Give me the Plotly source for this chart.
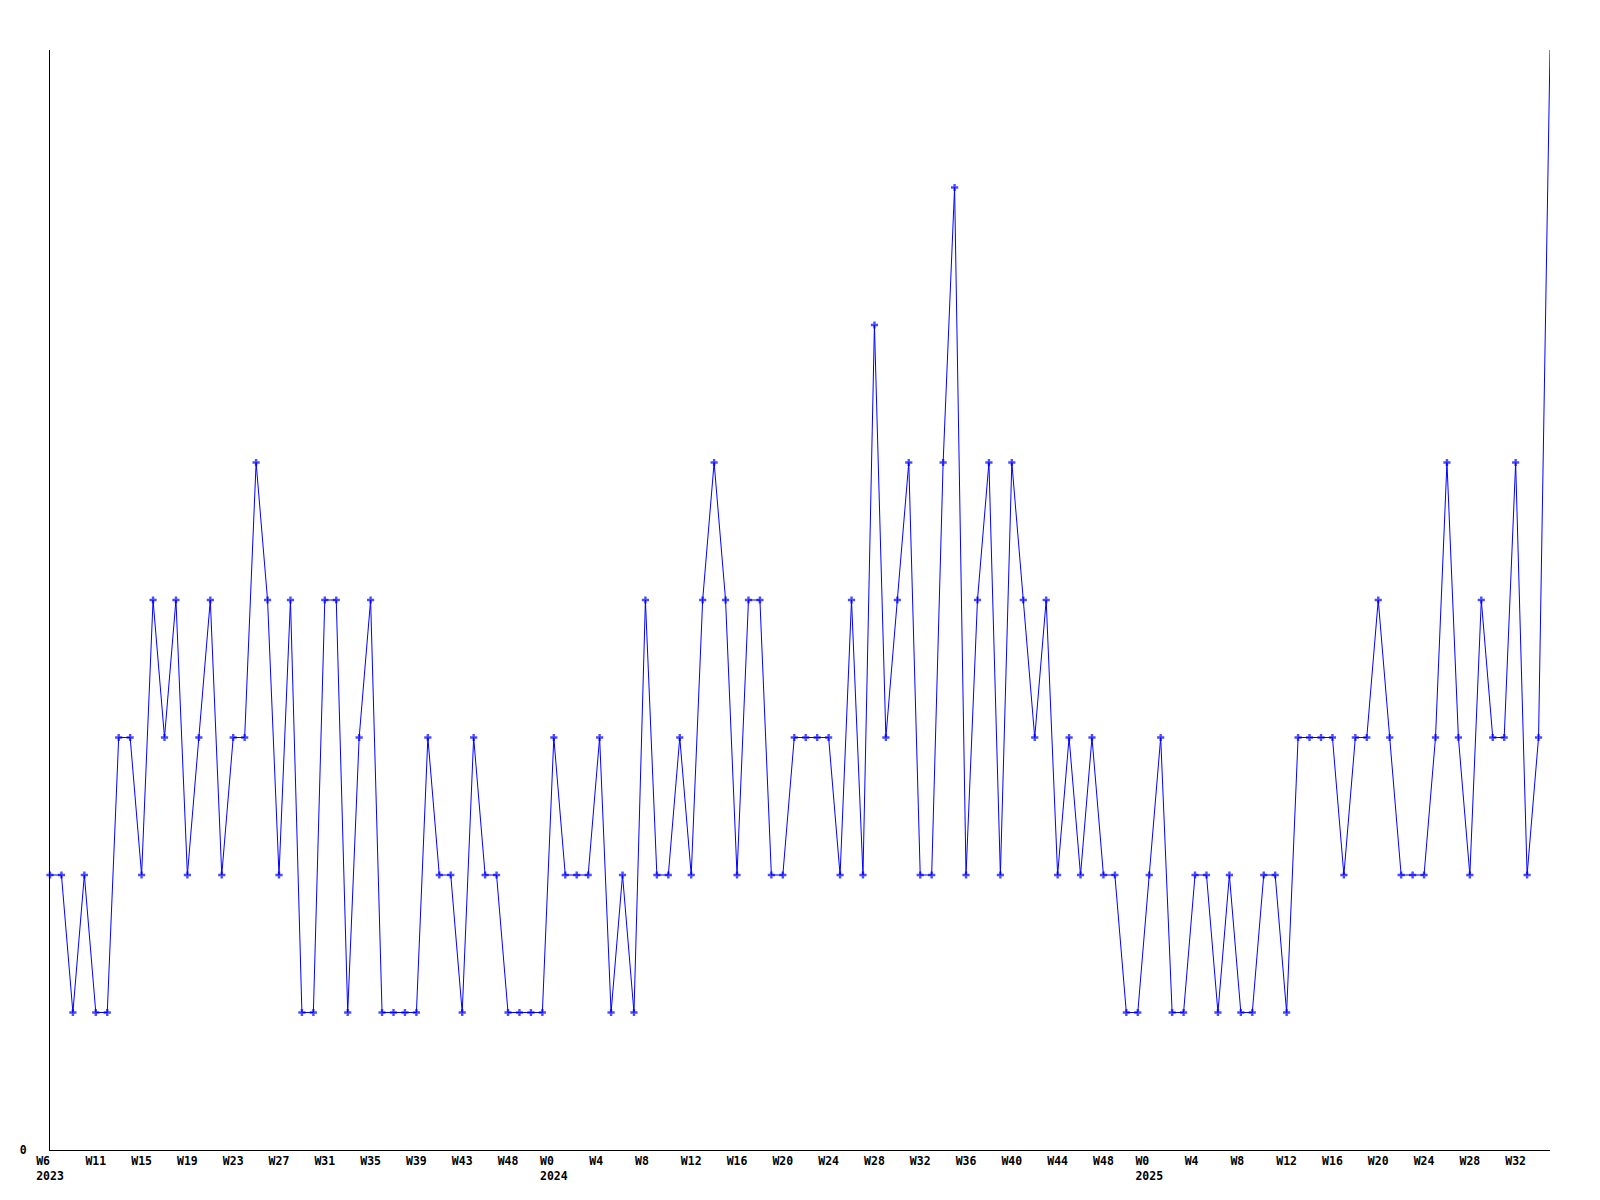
import plotly.graph_objects as go

# Weekly counts, 2023 W6 through 2025 (one value per week)
values = [
    2, 2, 1, 2, 1, 1, 3, 3, 2, 4, 3, 4, 2, 3, 4, 2, 3, 3, 5, 4,
    2, 4, 1, 1, 4, 4, 1, 3, 4, 1, 1, 1, 1, 3, 2, 2, 1, 3, 2, 2,
    1, 1, 1, 1, 3, 2, 2, 2, 3, 1, 2, 1, 4, 2, 2, 3, 2, 4, 5, 4,
    2, 4, 4, 2, 2, 3, 3, 3, 3, 2, 4, 2, 6, 3, 4, 5, 2, 2, 5, 7,
    2, 4, 5, 2, 5, 4, 3, 4, 2, 3, 2, 3, 2, 2, 1, 1, 2, 3, 1, 1,
    2, 2, 1, 2, 1, 1, 2, 2, 1, 3, 3, 3, 3, 2, 3, 3, 4, 3, 2, 2,
    2, 3, 5, 3, 2, 4, 3, 3, 5, 2, 3, 8,
]
x_index = list(range(len(values)))

tick_every = 4
tick_weeks = ["W6", "W11", "W15", "W19", "W23", "W27", "W31", "W35", "W39", "W43", "W48",
              "W0", "W4", "W8", "W12", "W16", "W20", "W24", "W28", "W32", "W36", "W40", "W44", "W48",
              "W0", "W4", "W8", "W12", "W16", "W20", "W24", "W28", "W32"]
tick_years = {0: "2023", 11: "2024", 24: "2025"}

NB = "\u00a0"
tick_positions = [i * tick_every for i in range(len(tick_weeks))]
tick_labels = []
for i, w in enumerate(tick_weeks):
    if i in tick_years:
        # left-align week and year: pad both lines to the same width
        tick_labels.append(w.ljust(4, NB) + "<br>" + tick_years[i])
    else:
        tick_labels.append(w.ljust(3, NB))

y_max = max(values)
# the marker at the very top edge is clipped away in the original
marker_sizes = [0 if v >= y_max else 6 for v in values]

tick_font = dict(family="DejaVu Sans Mono", size=11.5, color="black", weight="bold")

fig = go.Figure()
fig.add_trace(go.Scatter(
    x=x_index, y=values, mode="lines+markers",
    line=dict(color="#0000FF", width=1),
    marker=dict(symbol="cross", size=marker_sizes, color="#0000FF", line=dict(width=0)),
    showlegend=False, cliponaxis=False,
))

# page body has an 8px margin, so the figure is sized to fit inside the window
fig.update_layout(
    width=1584, height=1184,
    margin=dict(l=42, r=42, t=42, b=42, autoexpand=False),
    paper_bgcolor="white", plot_bgcolor="white",
    font=dict(family="DejaVu Sans Mono", size=11.5, color="black"),
    xaxis=dict(
        range=[0, len(values) - 1], showgrid=False, zeroline=False,
        showline=True, linecolor="black", linewidth=1, automargin=False,
        tickmode="array", tickvals=tick_positions, ticktext=tick_labels,
        ticks="", tickfont=tick_font, ticklabelstandoff=0,
    ),
    yaxis=dict(
        range=[0, y_max], showgrid=False, zeroline=False,
        showline=True, linecolor="black", linewidth=1, automargin=False,
        tickmode="array", tickvals=[0], ticktext=["0"],
        ticks="", tickfont=tick_font, ticklabelstandoff=20,
    ),
)

fig.write_html("out.html")
